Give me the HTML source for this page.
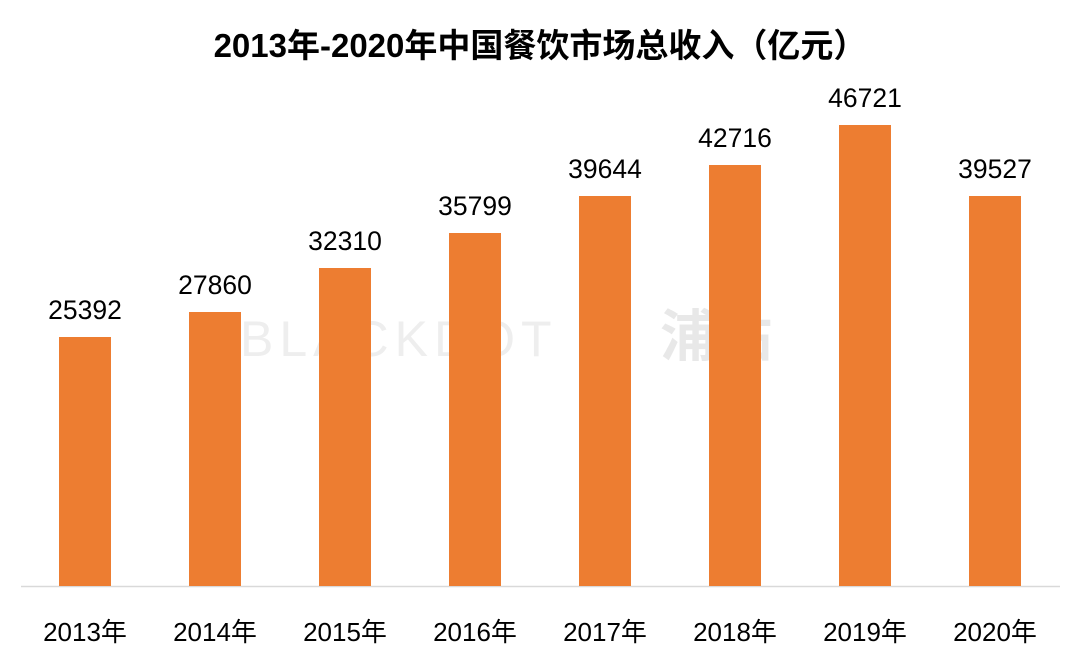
<!DOCTYPE html>
<html><head><meta charset="utf-8"><style>
html,body{margin:0;padding:0;background:#fff;width:1080px;height:669px;overflow:hidden}
svg{display:block}
text{font-family:"Liberation Sans","Noto Sans CJK SC",sans-serif}
</style></head><body>
<svg width="1080" height="669" viewBox="0 0 1080 669">
<text x="540" y="57" text-anchor="middle" font-size="33" font-weight="bold" fill="#000">2013年-2020年中国餐饮市场总收入（亿元）</text>
<text x="240" y="356" font-size="50" fill="#eeeeee" letter-spacing="6">BLACKDOT</text>
<text x="660" y="356" font-size="56" font-weight="bold" fill="#e8e8e8">浦點</text>
<line x1="21" y1="586.5" x2="1060" y2="586.5" stroke="#d9d9d9" stroke-width="1.5"/>
<g fill="#ed7d31">
<rect x="59" y="337" width="52" height="249"/>
<rect x="189" y="312" width="52" height="274"/>
<rect x="319" y="268" width="52" height="318"/>
<rect x="449" y="233" width="52" height="353"/>
<rect x="579" y="196" width="52" height="390"/>
<rect x="709" y="165" width="52" height="421"/>
<rect x="839" y="125" width="52" height="461"/>
<rect x="969" y="196" width="52" height="390"/>
</g>
<g font-size="26.5" fill="#000" text-anchor="middle">
<text x="85" y="319">25392</text>
<text x="215" y="294">27860</text>
<text x="345" y="250">32310</text>
<text x="475" y="215">35799</text>
<text x="605" y="178">39644</text>
<text x="735" y="147">42716</text>
<text x="865" y="107">46721</text>
<text x="995" y="178">39527</text>
</g>
<g font-size="26" fill="#000" text-anchor="middle">
<text x="85" y="641">2013年</text>
<text x="215" y="641">2014年</text>
<text x="345" y="641">2015年</text>
<text x="475" y="641">2016年</text>
<text x="605" y="641">2017年</text>
<text x="735" y="641">2018年</text>
<text x="865" y="641">2019年</text>
<text x="995" y="641">2020年</text>
</g>
</svg>
</body></html>
